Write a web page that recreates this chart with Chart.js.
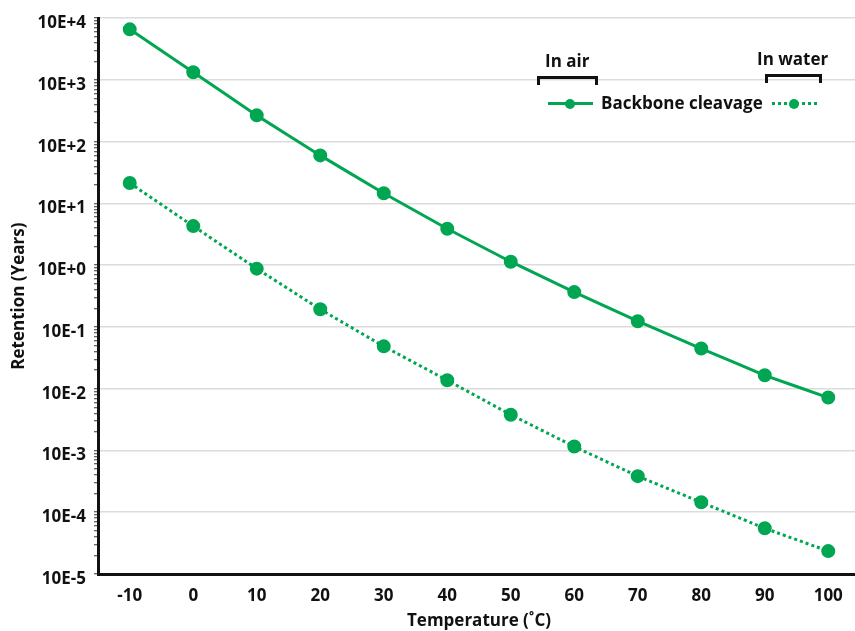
<!DOCTYPE html>
<html>
<head>
<meta charset="utf-8">
<script src="https://cdn.jsdelivr.net/npm/chart.js@4.4.1/dist/chart.umd.min.js"></script>
<style>
    body { margin: 0; background: #fff; overflow: hidden; }
    #wrap { position: relative; width: 855px; height: 631px; overflow: hidden; }
    #chart { width: 861px; height: 631px; }
    #legend { position: absolute; left: 0; top: 0; font: bold 17px "Open Sans", sans-serif; color: #111; }
    .lbl { position: absolute; white-space: nowrap; line-height: 22px; }
    .bracket { position: absolute; border: 3px solid #111; border-bottom: none; height: 6px; }
    .sample { position: absolute; width: 45px; height: 0; }
    .sample .dot { position: absolute; left: 17px; top: -6px; width: 10px; height: 10px; border-radius: 50%; background: #00a651; }
</style>
</head>
<body>
<div id="wrap">
    <canvas id="chart" width="861" height="631"></canvas>
    <div id="legend">
        <div class="lbl" style="left:545px; top:50px;">In air</div>
        <div class="bracket" style="left:537px; top:76px; width:55px;"></div>
        <div class="lbl" style="left:757px; top:48px;">In water</div>
        <div class="bracket" style="left:765px; top:74px; width:51px;"></div>
        <div class="sample" style="left:548px; top:103px; border-top:3px solid #00a651; margin-top:-1px;"><div class="dot"></div></div>
        <div class="lbl" style="left:601px; top:92px;">Backbone cleavage</div>
        <div class="sample" style="left:772px; top:103px; border-top:3px dotted #00a651; margin-top:-1px;"><div class="dot"></div></div>
    </div>
</div>
<script>
const temperatures = ['-10', '0', '10', '20', '30', '40', '50', '60', '70', '80', '90', '100'];

// retention in years
const inAir = [6600, 1330, 267, 60, 14.6, 3.9, 1.14, 0.367, 0.124, 0.0447, 0.0165, 0.0072];
const inWater = [21.4, 4.3, 0.88, 0.194, 0.0486, 0.0137, 0.0038, 0.00116, 0.000384, 0.000145, 0.000055, 0.0000235];

const yTickValues = [1e-5, 1e-4, 1e-3, 1e-2, 1e-1, 1e0, 1e1, 1e2, 1e3, 1e4];
const yTickLabels = ['10E-5', '10E-4', '10E-3', '10E-2', '10E-1', '10E+0', '10E+1', '10E+2', '10E+3', '10E+4'];

const green = '#00a651';
const font = { family: '"Open Sans", sans-serif', size: 17, weight: 'bold' };

const isDecade = v => Math.abs(Math.log10(v) - Math.round(Math.log10(v))) < 1e-6;

new Chart(document.getElementById('chart'), {
    type: 'line',
    data: {
        labels: temperatures,
        datasets: [{
            label: 'In air',
            data: inAir,
            borderColor: green,
            backgroundColor: green,
            borderWidth: 3,
            pointRadius: 5.5,
            pointHoverRadius: 5.5,
            tension: 0.05
        }, {
            label: 'In water',
            data: inWater,
            borderColor: green,
            backgroundColor: green,
            borderWidth: 3,
            borderDash: [3, 3],
            pointRadius: 5.5,
            pointHoverRadius: 5.5,
            tension: 0.05
        }]
    },
    options: {
        responsive: false,
        animation: false,
        // canvas is a bit wider than the page: the plot runs past the right edge like the original
        layout: { autoPadding: false, padding: { top: 14, right: 1, left: 0, bottom: 0 } },
        plugins: { legend: { display: false }, tooltip: { enabled: false } },
        scales: {
            x: {
                offset: true,
                grid: { display: false, drawTicks: false },
                border: { color: '#111', width: 3 },
                ticks: { color: '#111', font: font, padding: 12 },
                title: { display: true, text: 'Temperature (˚C)', color: '#111', font: font, padding: { top: 2, bottom: 0 } },
                afterFit: scale => {
                    scale.height = 57;
                    scale.paddingLeft = 0;
                    scale.paddingRight = 0;
                }
            },
            y: {
                type: 'logarithmic',
                min: yTickValues[0],
                max: yTickValues[yTickValues.length - 1],
                // decade ticks plus minor ticks 2..9 in each decade
                afterBuildTicks: scale => {
                    const ticks = [];
                    yTickValues.forEach((v, i) => {
                        ticks.push({ value: v });
                        if (i < yTickValues.length - 1) {
                            for (let k = 2; k <= 9; k++) ticks.push({ value: v * k });
                        }
                    });
                    scale.ticks = ticks;
                },
                ticks: {
                    autoSkip: false,
                    color: '#111',
                    font: font,
                    padding: 8,
                    labelOffset: 5,
                    callback: value => {
                        const i = yTickValues.findIndex(v => Math.abs(v - value) / v < 1e-6);
                        return i >= 0 ? yTickLabels[i] : '';
                    }
                },
                grid: {
                    color: ctx => (ctx.tick && isDecade(ctx.tick.value)) ? '#dcdcdc' : 'rgba(0,0,0,0)',
                    lineWidth: 1.5,
                    tickColor: '#333',
                    tickLength: 4,
                    tickWidth: 1
                },
                border: { color: '#111', width: 3 },
                title: { display: true, text: 'Retention (Years)', color: '#111', font: font, padding: { top: 9, bottom: 0 } },
                afterFit: scale => { scale.width = 98; }
            }
        }
    }
});
</script>
</body>
</html>
